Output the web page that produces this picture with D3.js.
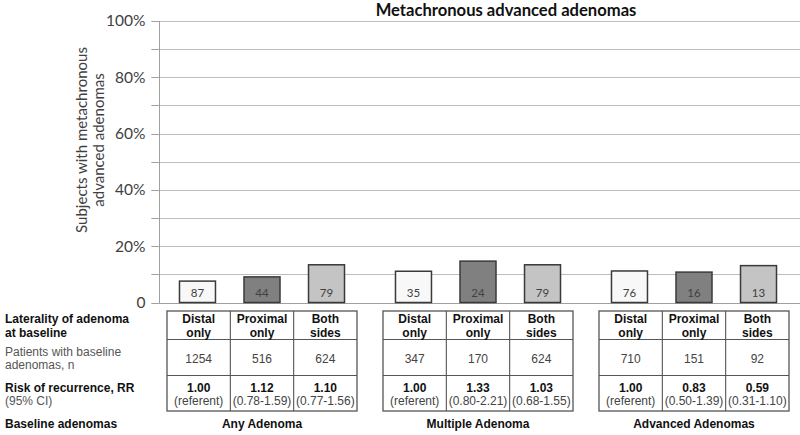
<!DOCTYPE html>
<html>
<head>
<meta charset="utf-8">
<script src="https://cdn.jsdelivr.net/npm/d3@7/dist/d3.min.js"></script>
<style>
  html, body { margin: 0; padding: 0; background: #fff; }
  svg { display: block; }
</style>
</head>
<body>
<svg id="chart" width="800" height="435"></svg>
<script>
// ---------------- DATA ----------------
const groups = ["Any Adenoma", "Multiple Adenoma", "Advanced Adenomas"];
const laterality = ["Distal only", "Proximal only", "Both sides"];
const lateralityLines = [["Distal", "only"], ["Proximal", "only"], ["Both", "sides"]];
// percent of subjects with metachronous advanced adenomas
const pctAny = [7.6, 9.1, 13.4];
const pctMultiple = [11.1, 14.7, 13.4];
const pctAdvanced = [11.2, 10.8, 13.1];
// counts printed inside the bars
const countAny = [87, 44, 79];
const countMultiple = [35, 24, 79];
const countAdvanced = [76, 16, 13];
// patients with baseline adenomas, n
const patientsAny = [1254, 516, 624];
const patientsMultiple = [347, 170, 624];
const patientsAdvanced = [710, 151, 92];
// risk of recurrence RR and 95% CI
const rrAny = ["1.00", "1.12", "1.10"];
const rrMultiple = ["1.00", "1.33", "1.03"];
const rrAdvanced = ["1.00", "0.83", "0.59"];
const ciAny = ["(referent)", "(0.78-1.59)", "(0.77-1.56)"];
const ciMultiple = ["(referent)", "(0.80-2.21)", "(0.68-1.55)"];
const ciAdvanced = ["(referent)", "(0.50-1.39)", "(0.31-1.10)"];
const yTickValues = [0, 20, 40, 60, 80, 100];
const yTickLabels = ["0", "20%", "40%", "60%", "80%", "100%"];
const yGridValues = [0, 10, 20, 30, 40, 50, 60, 70, 80, 90, 100];
const title = "Metachronous advanced adenomas";
const yTitleLines = ["Subjects with metachronous", "advanced adenomas"];
const rowLabels = [
  { lines: ["Laterality of adenoma", "at baseline"], bold: [true, true] },
  { lines: ["Patients with baseline", "adenomas, n"], bold: [false, false] },
  { lines: ["Risk of recurrence, RR", "(95% CI)"], bold: [true, false] }
];
const footLabel = "Baseline adenomas";

const pctBy = [pctAny, pctMultiple, pctAdvanced];
const countBy = [countAny, countMultiple, countAdvanced];
const patientsBy = [patientsAny, patientsMultiple, patientsAdvanced];
const rrBy = [rrAny, rrMultiple, rrAdvanced];
const ciBy = [ciAny, ciMultiple, ciAdvanced];

const barData = [];
groups.forEach((g, gi) => laterality.forEach((l, li) => {
  barData.push({ group: g, lat: l, li, value: pctBy[gi][li], count: countBy[gi][li] });
}));

// ---------------- LAYOUT ----------------
const svg = d3.select("#chart");
const chartFont = "Lato, 'Open Sans', sans-serif";
const tableFont = "'Liberation Sans', Arial, sans-serif";
const barFill = { "Distal only": "#f8f8f8", "Proximal only": "#808080", "Both sides": "#c4c4c4" };

const y = d3.scaleLinear().domain([0, 100]).range([302.5, 21]);
const xGroup = d3.scaleBand().domain(groups).range([154, 802]).padding(0);
const xBar = d3.scaleBand().domain(laterality).range([0, xGroup.bandwidth()])
  .paddingInner(0.442).paddingOuter(0.395);
const xCol = d3.scaleBand().domain(laterality).range([-95, 95]).padding(0);
const axisX = 159.5;

// gridlines
svg.append("g").selectAll("line").data(yGridValues).join("line")
  .attr("x1", axisX - 8).attr("x2", 800)
  .attr("y1", d => Math.round(y(d)) + 0.5).attr("y2", d => Math.round(y(d)) + 0.5)
  .attr("stroke", d => d === 0 ? "#a0a0a0" : "#bdbdbd").attr("stroke-width", 1);

// y axis line
svg.append("line").attr("x1", axisX).attr("x2", axisX)
  .attr("y1", y(100)).attr("y2", y(0) + 1)
  .attr("stroke", "#a0a0a0").attr("stroke-width", 1);

// y tick labels via d3 axis
const yAxis = d3.axisLeft(y).tickValues(yTickValues)
  .tickFormat((d, i) => yTickLabels[i]).tickSize(0).tickPadding(14);
const yg = svg.append("g").attr("transform", `translate(${axisX},0)`).call(yAxis);
yg.select(".domain").remove();
yg.selectAll("text").attr("font-family", chartFont).attr("font-size", 15.5)
  .attr("fill", "#404040");

// y title
const yt = svg.append("text").attr("transform", `translate(0,140) rotate(-90)`)
  .attr("text-anchor", "middle").attr("font-family", chartFont).attr("font-size", 15)
  .attr("fill", "#404040");
yTitleLines.forEach((t, i) => yt.append("tspan").attr("x", 0).attr("y", 87 + i * 16.5).text(t));

// title
svg.append("text").attr("x", 506).attr("y", 15.5).attr("text-anchor", "middle")
  .attr("font-family", chartFont).attr("font-weight", "bold").attr("font-size", 16.6)
  .attr("fill", "#111").text(title);

// bars
const bx = d => xGroup(d.group) + xBar(d.lat);
svg.append("g").selectAll("rect").data(barData).join("rect")
  .attr("x", bx).attr("width", xBar.bandwidth())
  .attr("y", d => y(d.value)).attr("height", d => y(0) - y(d.value))
  .attr("fill", d => barFill[d.lat]).attr("stroke", "#3a3a3a").attr("stroke-width", 1.5);

svg.append("g").selectAll("text").data(barData).join("text")
  .attr("x", d => bx(d) + xBar.bandwidth() / 2).attr("y", y(0) - 10)
  .attr("dy", "0.35em").attr("text-anchor", "middle")
  .attr("font-family", chartFont).attr("font-size", 11.5).attr("fill", "#404040")
  .text(d => d.count);

// ---------------- TABLE ----------------
const rowEdges = [311, 339.5, 375.5, 411];
const lineY = [[319, 332.5], [358.3], [387.3, 400.3]];
const footY = 423.3;

// row labels
rowLabels.forEach((r, ri) => {
  const ys = ri === 1 ? [351.5, 365] : lineY[ri];
  r.lines.forEach((t, k) => {
    svg.append("text").attr("x", 5).attr("y", ys[k]).attr("dy", "0.35em")
      .attr("font-family", tableFont).attr("font-size", 12)
      .attr("font-weight", r.bold[k] ? "bold" : "normal")
      .attr("fill", r.bold[k] ? "#111" : "#555").text(t);
  });
});
svg.append("text").attr("x", 5).attr("y", footY).attr("dy", "0.35em")
  .attr("font-family", tableFont).attr("font-size", 12).attr("font-weight", "bold")
  .attr("fill", "#111").text(footLabel);

groups.forEach((g, gi) => {
  const cx = xGroup(g) + xGroup.bandwidth() / 2;
  const tg = svg.append("g").attr("transform", `translate(${cx},0)`);
  const left = xCol.range()[0], right = xCol.range()[1];
  // outer border and row lines
  tg.append("rect").attr("x", left).attr("y", rowEdges[0])
    .attr("width", right - left).attr("height", rowEdges[3] - rowEdges[0])
    .attr("fill", "none").attr("stroke", "#555").attr("stroke-width", 1.3);
  [rowEdges[1], rowEdges[2]].forEach(ry => tg.append("line")
    .attr("x1", left).attr("x2", right).attr("y1", ry).attr("y2", ry)
    .attr("stroke", "#555").attr("stroke-width", 1.1));
  laterality.slice(1).forEach(l => tg.append("line")
    .attr("x1", xCol(l)).attr("x2", xCol(l)).attr("y1", rowEdges[0]).attr("y2", rowEdges[3])
    .attr("stroke", "#555").attr("stroke-width", 1.1));

  laterality.forEach((l, li) => {
    const ccx = xCol(l) + xCol.bandwidth() / 2;
    lateralityLines[li].forEach((t, k) => tg.append("text")
      .attr("x", ccx).attr("y", lineY[0][k]).attr("dy", "0.35em").attr("text-anchor", "middle")
      .attr("font-family", tableFont).attr("font-size", 12).attr("font-weight", "bold")
      .attr("fill", "#111").text(t));
    tg.append("text").attr("x", ccx).attr("y", lineY[1][0]).attr("dy", "0.35em")
      .attr("text-anchor", "middle").attr("font-family", tableFont).attr("font-size", 12)
      .attr("fill", "#444").text(patientsBy[gi][li]);
    tg.append("text").attr("x", ccx).attr("y", lineY[2][0]).attr("dy", "0.35em")
      .attr("text-anchor", "middle").attr("font-family", tableFont).attr("font-size", 12)
      .attr("font-weight", "bold").attr("fill", "#111").text(rrBy[gi][li]);
    tg.append("text").attr("x", ccx).attr("y", lineY[2][1]).attr("dy", "0.35em")
      .attr("text-anchor", "middle").attr("font-family", tableFont).attr("font-size", 12)
      .attr("fill", "#444").text(ciBy[gi][li]);
  });
  tg.append("text").attr("x", 0).attr("y", footY).attr("dy", "0.35em")
    .attr("text-anchor", "middle").attr("font-family", tableFont).attr("font-size", 12)
    .attr("font-weight", "bold").attr("fill", "#111").text(g);
});

// small tick marks on y axis at every gridline
svg.append("g").selectAll("line").data(yGridValues).join("line")
  .attr("x1", axisX - 8).attr("x2", axisX)
  .attr("y1", d => Math.round(y(d)) + 0.5).attr("y2", d => Math.round(y(d)) + 0.5)
  .attr("stroke", "#a0a0a0");
</script>
</body>
</html>
